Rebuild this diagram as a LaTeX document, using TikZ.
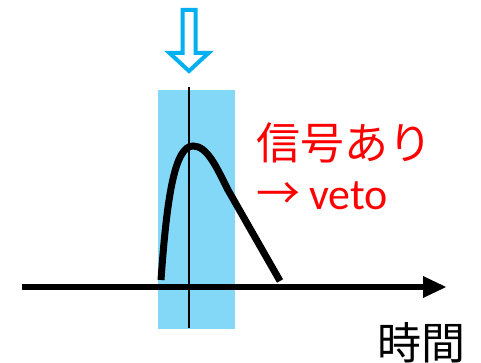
\documentclass[tikz,border=0pt]{standalone}
\usepackage{fontspec}
\newfontfamily\cjk{Noto Sans CJK JP}
\newfontfamily\latinf{Carlito}
\definecolor{bandblue}{RGB}{131,216,247}
\definecolor{arrowblue}{RGB}{0,176,240}
\begin{document}
\begin{tikzpicture}[x=1pt,y=-1pt,
  lbl/.style={inner sep=0pt, anchor=base west, font=\fontsize{44}{48}\selectfont}]
\useasboundingbox (0,0) rectangle (481,363);
% band
\fill[bandblue] (158,90) rectangle (235,329);
% vertical line
\draw[line width=2pt] (189,87) -- (189,328);
% axis
\coordinate (axs) at (22,287);
\coordinate (axe) at (424,287);
\draw[line width=6.5pt] (axs) -- (axe);
\fill (423,276) -- (446,287) -- (423,298) -- cycle;
% signal curve
\draw[line width=7pt] (161,280) .. controls (167,195) and (175,146) .. (193,146)
  .. controls (207,146) and (216,166) .. (228,190) -- (280,281);
% hollow arrow
\draw[arrowblue, fill=white, line width=4pt, line join=miter]
  (182.5,10) -- (195.5,10) -- (195.5,53) -- (208.5,53) -- (189,71) -- (169.5,53) -- (182.5,53) -- cycle;
% texts
\node[lbl, text=red] (sig) at (256,160) {\cjk 信号あり};
\node[lbl, text=red] (veto) at (256,210) {\cjk →\hspace{9pt}\latinf veto};
\node[lbl] (time) at (377,359) {\cjk 時間};
\end{tikzpicture}
\end{document}
